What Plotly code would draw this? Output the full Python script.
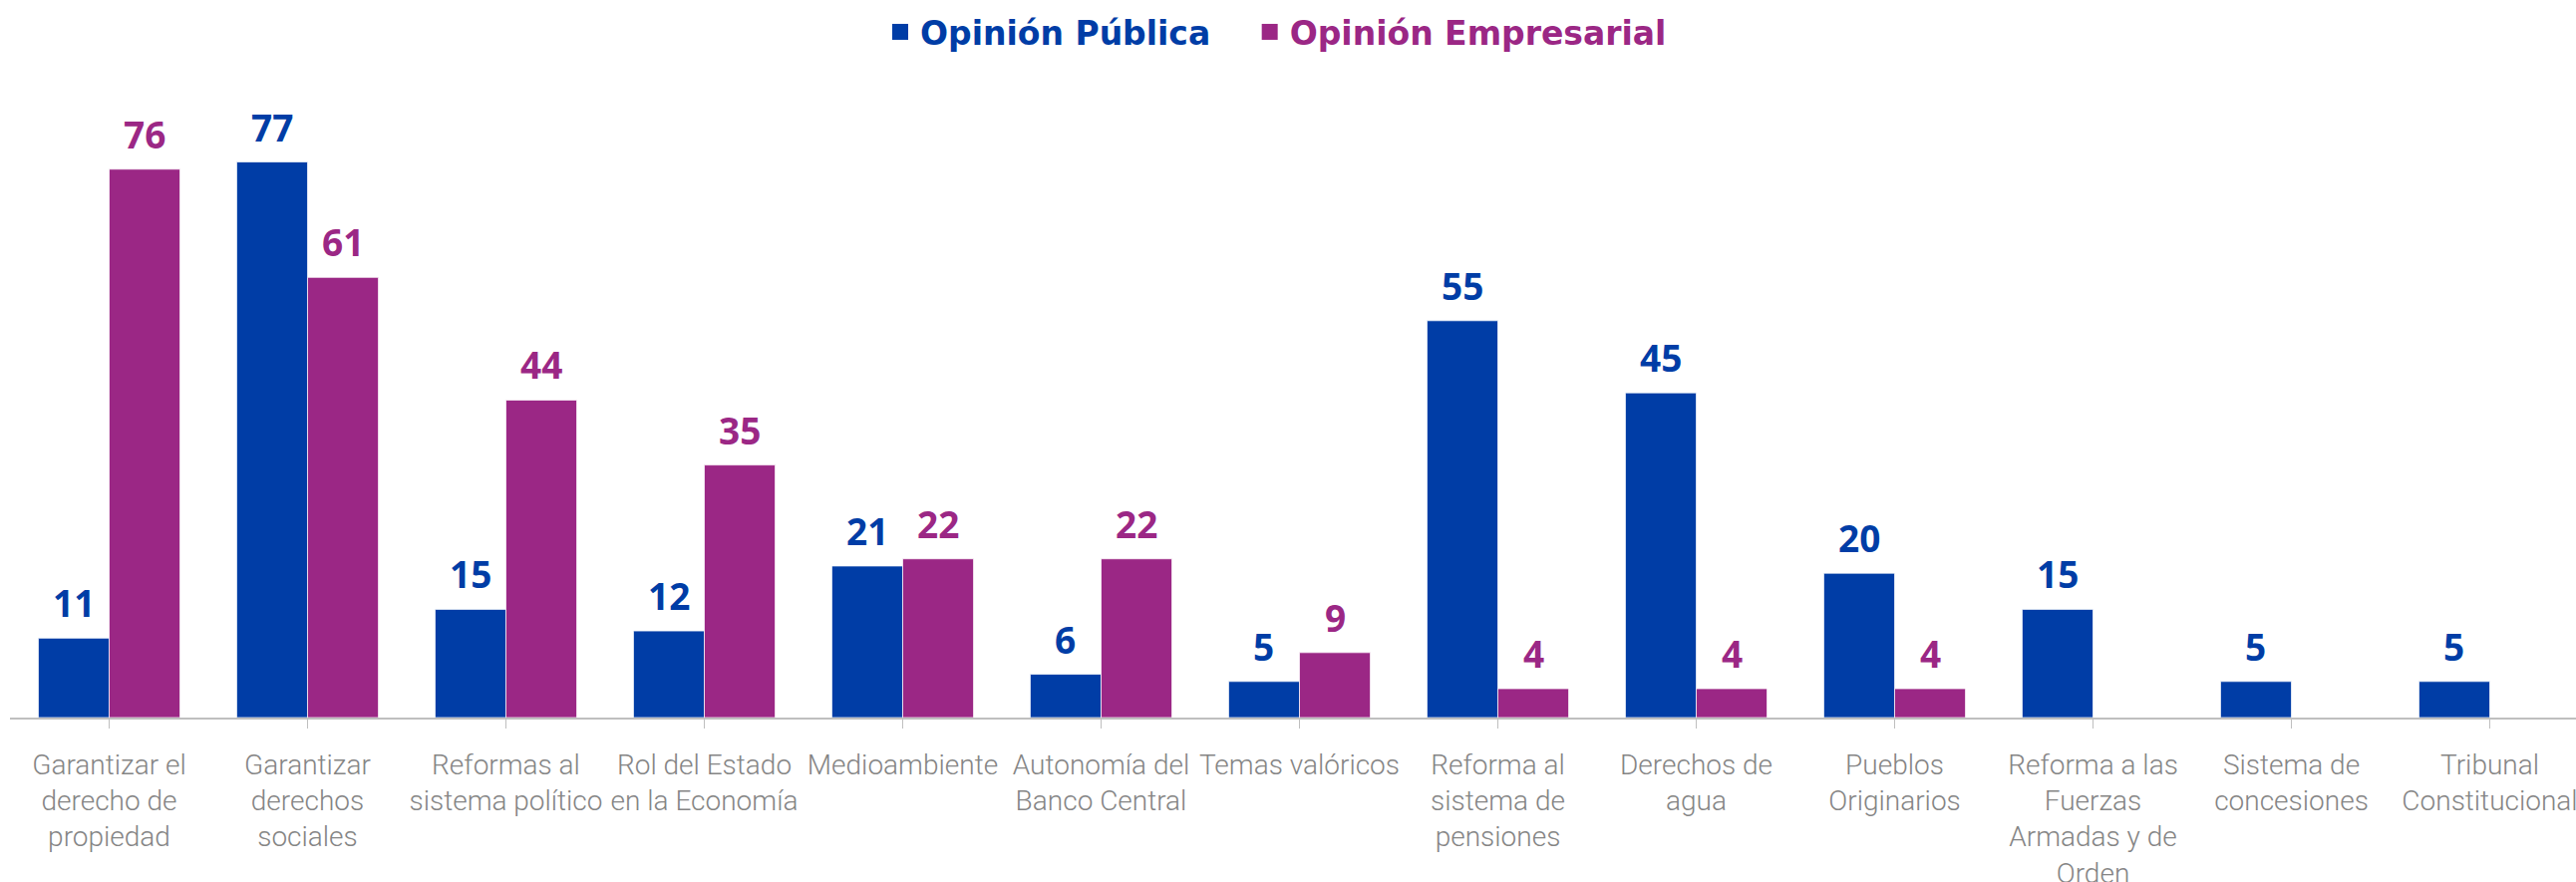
import plotly.graph_objects as go

# Categories (tick labels) and survey percentages
categories = [
    "Garantizar el<br>derecho de<br>propiedad",
    "Garantizar<br>derechos<br>sociales",
    "Reformas al<br>sistema político",
    "Rol del Estado<br>en la Economía",
    "Medioambiente",
    "Autonomía del<br>Banco Central",
    "Temas valóricos",
    "Reforma al<br>sistema de<br>pensiones",
    "Derechos de<br>agua",
    "Pueblos<br>Originarios",
    "Reforma a las<br>Fuerzas<br>Armadas y de<br>Orden",
    "Sistema de<br>concesiones",
    "Tribunal<br>Constitucional",
]
opinion_publica = [11, 77, 15, 12, 21, 6, 5, 55, 45, 20, 15, 5, 5]
opinion_empresarial = [76, 61, 44, 35, 22, 22, 9, 4, 4, 4, None, None, None]

series_names = ["Opinión Pública", "Opinión Empresarial"]
colors = ["#003DA6", "#9B2785"]

W, H = 2584, 885
margin = dict(l=10, r=0, t=60, b=165)
slot_px = 199.0
bargap = 0.286
plot_w = W - margin["l"] - margin["r"]
x_range = [-0.5, -0.5 + plot_w / slot_px]
y_max = (H - margin["t"] - margin["b"]) / 7.24

fig = go.Figure()
for name, vals, col in zip(series_names, [opinion_publica, opinion_empresarial], colors):
    fig.add_trace(go.Bar(
        x=list(range(len(categories))), y=vals, name=name,
        marker=dict(color=col, line=dict(color="rgba(255,255,255,0.7)", width=1)),
        showlegend=False, hoverinfo="skip",
    ))
    # legend entry with a larger square swatch and coloured text
    fig.add_trace(go.Scatter(
        x=[None], y=[None], mode="markers",
        marker=dict(symbol="square", size=16, color=col),
        name=f"<span style='color:{col}'>{name}</span>   ",
    ))

# value labels above each bar
half_bar = slot_px * (1 - bargap) / 4
annotations = []
for k, (vals, col) in enumerate(zip([opinion_publica, opinion_empresarial], colors)):
    shift = -half_bar if k == 0 else half_bar
    for i, v in enumerate(vals):
        if v is None:
            continue
        annotations.append(dict(
            x=i, y=v, xref="x", yref="y", text=f"<b>{v}</b>", showarrow=False,
            xanchor="center", yanchor="bottom", xshift=shift, yshift=8,
            font=dict(family="Open Sans", size=37, color=col),
        ))

fig.update_layout(
    width=W, height=H, margin=margin,
    paper_bgcolor="white", plot_bgcolor="white",
    barmode="group", bargap=bargap, bargroupgap=0,
    annotations=annotations,
    legend=dict(
        orientation="h", x=0.5, xanchor="center", y=1 - 32 / H, yanchor="middle",
        yref="container",
        font=dict(family="DejaVu Sans", size=33, weight="bold"),
        itemwidth=30,
    ),
    xaxis=dict(
        tickmode="array", tickvals=list(range(len(categories))), ticktext=categories,
        range=x_range, showline=True, linecolor="#BFBFBF", linewidth=2,
        ticks="outside", tickson="boundaries", ticklen=9, tickcolor="#BFBFBF",
        ticklabeloverflow="allow", ticklabelstandoff=12, automargin=False,
        tickfont=dict(family="Roboto", size=28, weight=300, color="#858585"),
        showgrid=False, zeroline=False, fixedrange=True,
    ),
    yaxis=dict(range=[0, y_max], visible=False, showgrid=False, zeroline=False),
)

fig.write_html("out.html")
